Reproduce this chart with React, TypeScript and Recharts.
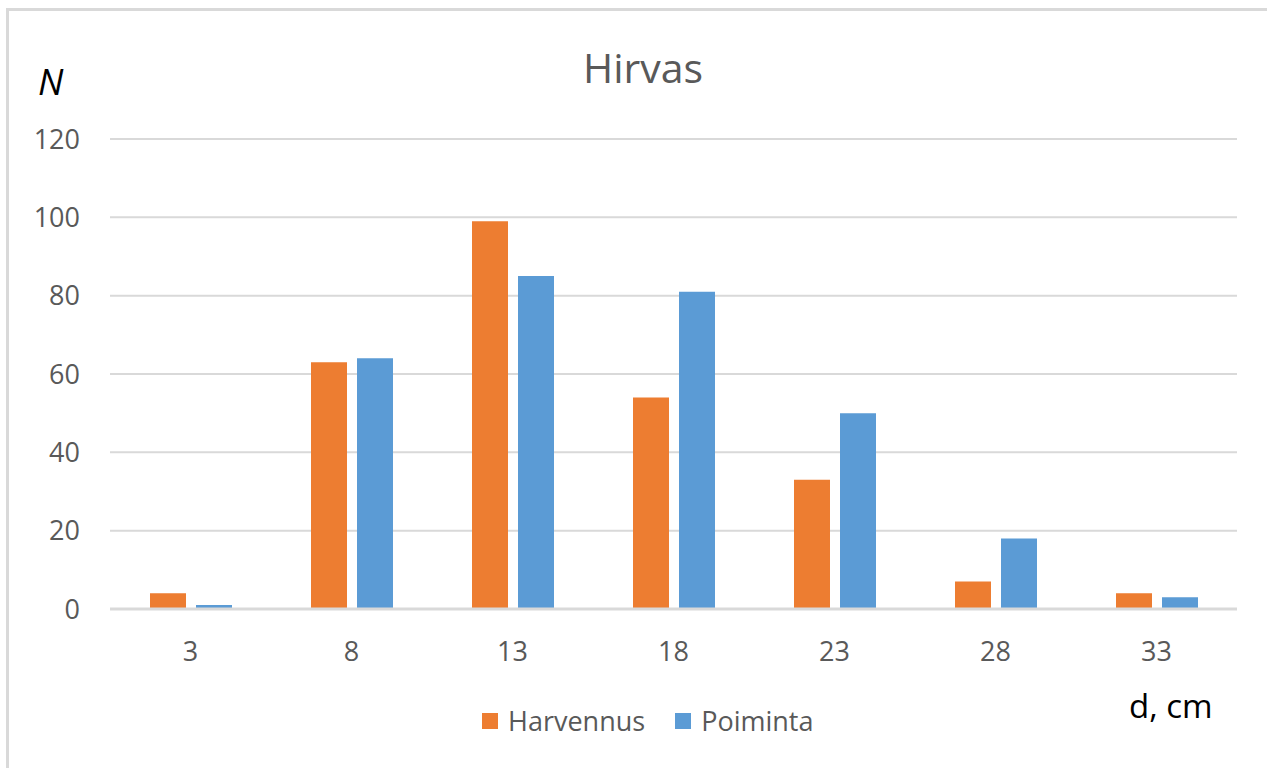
import React from "react";
import { BarChart, Bar, XAxis, YAxis, CartesianGrid } from "recharts";

const diameters = ["3", "8", "13", "18", "23", "28", "33"];
const harvennus = [4, 63, 99, 54, 33, 7, 4];
const poiminta = [1, 64, 85, 81, 50, 18, 3];
const yTicks = [0, 20, 40, 60, 80, 100, 120];

const data = diameters.map((d, i) => ({
  d,
  Harvennus: harvennus[i],
  Poiminta: poiminta[i],
}));

const FONT = "'Open Sans', sans-serif";
const ORANGE = "#ED7D31";
const BLUE = "#5B9BD5";
const TEXT = "#595959";

export default function App() {
  return (
    <div
      style={{
        position: "absolute",
        left: 0,
        top: 0,
        width: 1267,
        height: 768,
        overflow: "hidden",
        background: "#fff",
        fontFamily: FONT,
      }}
    >
      <div
        style={{
          position: "absolute",
          left: 6,
          top: 8,
          width: 1400,
          height: 900,
          border: "3px solid #d9d9d9",
        }}
      />
      <div style={{ position: "absolute", left: 0, top: 0 }}>
        <BarChart
          width={1267}
          height={768}
          data={data}
          margin={{ top: 139, right: 30, left: 0, bottom: 0 }}
          barGap={10}
          barSize={36}
        >
          <CartesianGrid vertical={false} stroke="#d9d9d9" strokeWidth={2} />
          <XAxis
            dataKey="d"
            height={159}
            tickLine={false}
            tickSize={0}
            tickMargin={33}
            axisLine={{ stroke: "#d9d9d9", strokeWidth: 3 }}
            tick={{ fill: TEXT, fontSize: 27, fontFamily: FONT }}
          />
          <YAxis
            width={110}
            domain={[0, 120]}
            ticks={yTicks}
            axisLine={false}
            tickLine={false}
            tickSize={0}
            tickMargin={30}
            tick={{ fill: TEXT, fontSize: 27, fontFamily: FONT }}
          />
          <Bar dataKey="Harvennus" fill={ORANGE} isAnimationActive={false} />
          <Bar dataKey="Poiminta" fill={BLUE} isAnimationActive={false} />
        </BarChart>
      </div>
      <div
        style={{
          position: "absolute",
          left: 543,
          width: 200,
          top: 40,
          textAlign: "center",
          fontSize: 41,
          color: TEXT,
          lineHeight: "54px",
        }}
      >
        Hirvas
      </div>
      <div
        style={{
          position: "absolute",
          left: 38,
          top: 60,
          fontSize: 36,
          fontStyle: "italic",
          color: "#000",
          lineHeight: "44px",
        }}
      >
        N
      </div>
      <div
        style={{
          position: "absolute",
          left: 1129,
          top: 685,
          fontSize: 33,
          color: "#000",
          lineHeight: "42px",
        }}
      >
        d, cm
      </div>
      <div
        style={{
          position: "absolute",
          left: 482,
          top: 703,
          display: "flex",
          alignItems: "center",
          fontSize: 27,
          color: TEXT,
          lineHeight: "36px",
        }}
      >
        <span style={{ width: 16, height: 16, background: ORANGE, display: "inline-block" }} />
        <span style={{ marginLeft: 10 }}>Harvennus</span>
        <span style={{ width: 16, height: 16, background: BLUE, display: "inline-block", marginLeft: 30 }} />
        <span style={{ marginLeft: 10 }}>Poiminta</span>
      </div>
    </div>
  );
}
